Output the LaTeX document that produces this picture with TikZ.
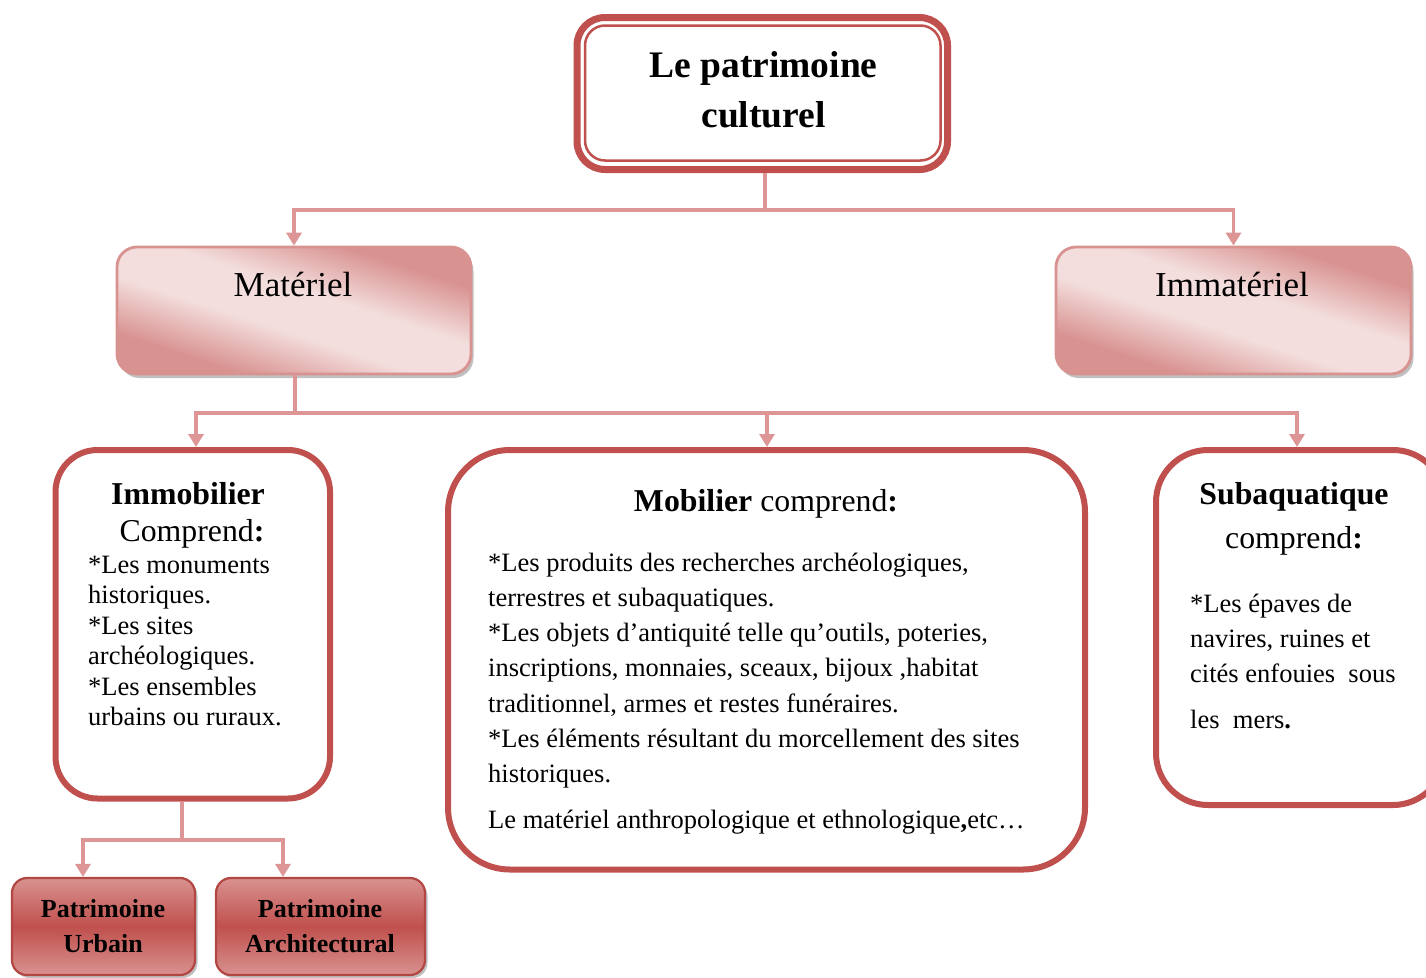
\documentclass[tikz,border=0pt]{standalone}
\usepackage{fontspec}
\setmainfont{Liberation Serif}
\usetikzlibrary{arrows.meta,shadows,calc}
\definecolor{redC}{RGB}{192,80,77}
\definecolor{redD}{RGB}{178,70,67}
\definecolor{pinkD}{RGB}{216,146,144}
\definecolor{pinkL}{RGB}{243,222,221}
\definecolor{connC}{RGB}{221,150,149}
\pgfdeclareverticalshading{pinkband}{100bp}{color(0bp)=(pinkD); color(29bp)=(pinkD); color(44bp)=(pinkL); color(56bp)=(pinkL); color(71bp)=(pinkD); color(100bp)=(pinkD)}
\begin{document}
\begin{tikzpicture}[x=1pt,y=-1pt,
  bigbox/.style={draw=redC, line width=6pt, fill=white, rounded corners=#1, inner sep=0pt},
  pinkbox/.style={draw=pinkD, line width=2.8pt, rounded corners=20pt, inner sep=0pt,
     shading=pinkband, shading angle=-18,
     drop shadow={shadow xshift=2.5pt, shadow yshift=-4pt, opacity=.45, fill=black!55}},
  redbox/.style={draw=redD, line width=2.2pt, rounded corners=15pt, inner sep=0pt,
     top color=pinkD, bottom color=pinkD, middle color=redC,
     drop shadow={shadow xshift=2.5pt, shadow yshift=-3pt, opacity=.45, fill=black!55}},
  conn/.style={draw=connC, line width=3.8pt},
  arr/.style={conn, -{Triangle[width=15pt,length=13pt]}},
  hdr/.style={font=\fontsize{31.8}{36}\selectfont, inner sep=0pt, anchor=base},
  body/.style={font=\fontsize{26.5}{30}\selectfont, inner sep=0pt, anchor=base west},
  ttl/.style={font=\fontsize{37.5}{42}\selectfont\bfseries, inner sep=0pt, anchor=base},
  mid/.style={font=\fontsize{35}{40}\selectfont, inner sep=0pt, anchor=base},
  sml/.style={font=\fontsize{26}{30}\selectfont\bfseries, inner sep=0pt, anchor=base}
]
\useasboundingbox (0,0) rectangle (1426,977);

% ---- top box
\node[bigbox=28pt, line width=7pt, minimum width=370.5pt, minimum height=152pt] (top) at (762.25,93.5) {};
\draw[redC, line width=2.5pt, rounded corners=20pt]
  ($(top.north west)+(11.5,11.5)$) rectangle ($(top.south east)+(-10.5,-12.5)$);
\node[ttl] (t1) at (763.5,77.5) {Le patrimoine};
\node[ttl] (t2) at (763.5,127.5) {culturel};

% ---- level 2
\node[pinkbox, minimum width=354pt, minimum height=127pt] (mat) at (294,310.5) {};
\node[mid] (matT) at (293,296.5) {Matériel};
\node[pinkbox, minimum width=355pt, minimum height=127pt] (imm) at (1233.5,310.5) {};
\node[mid] (immT) at (1232,296.5) {Immatériel};

% ---- level 3
\node[bigbox=42pt, minimum width=274.5pt, minimum height=348.5pt] (immo) at (192.75,624.25) {};
\node[bigbox=62pt, minimum width=637pt, minimum height=419.5pt] (mob) at (766.5,659.75) {};
\node[bigbox=52pt, minimum width=289pt, minimum height=355pt] (sub) at (1300.5,627.5) {};

% Immobilier text
\node[hdr] (imH1) at (188,504.5) {\textbf{Immobilier}};
\node[hdr] (imH2) at (192,541.5) {Comprend\textbf{:}};
\node[body] (im1) at (88,573) {*Les monuments};
\node[body] (im2) at (88,603.5) {historiques.};
\node[body] (im3) at (88,634) {*Les sites};
\node[body] (im4) at (88,664.5) {archéologiques.};
\node[body] (im5) at (88,695) {*Les ensembles};
\node[body] (im6) at (88,725.5) {urbains ou ruraux.};

% Mobilier text
\node[hdr] (moH) at (766,511.5) {\textbf{Mobilier} comprend\textbf{:}};
\node[body] (mo1) at (488,571) {*Les produits des recherches archéologiques,};
\node[body] (mo2) at (488,606) {terrestres et subaquatiques.};
\node[body] (mo3) at (488,641) {*Les objets d’antiquité telle qu’outils, poteries,};
\node[body] (mo4) at (488,676.5) {inscriptions, monnaies, sceaux, bijoux ,habitat};
\node[body] (mo5) at (488,712) {traditionnel, armes et restes funéraires.};
\node[body] (mo6) at (488,747) {*Les éléments résultant du morcellement des sites};
\node[body] (mo7) at (488,782.5) {historiques.};
\node[body] (mo8) at (488,828) {Le matériel anthropologique et ethnologique\textbf{,}etc…};

% Subaquatique text
\node[hdr] (suH1) at (1294,504) {\textbf{Subaquatique}};
\node[hdr] (suH2) at (1294,548) {comprend\textbf{:}};
\node[body] (su1) at (1190,612) {*Les épaves de};
\node[body] (su2) at (1190,647) {navires, ruines et};
\node[body] (su3) at (1190,682) {cités enfouies\ \ sous};
\node[body] (su4) at (1190,728) {les\ \ mers\textbf{.}};

% ---- level 4
\node[redbox, minimum width=183pt, minimum height=97pt] (urb) at (103.5,926.5) {};
\node[sml] (urT1) at (103,917.5) {Patrimoine};
\node[sml] (urT2) at (103,952.5) {Urbain};
\node[redbox, minimum width=209pt, minimum height=97pt] (arc) at (320.5,926.5) {};
\node[sml] (arT1) at (320,917.5) {Patrimoine};
\node[sml] (arT2) at (320,952.5) {Architectural};

% ---- connectors
\coordinate (j1) at (765,210);
\draw[conn] (j1 |- top.south) -- (j1);
\draw[arr] (j1) -| (mat.north);
\draw[arr] (j1) -| (imm.north);

\coordinate (j2) at (295,413);
\coordinate (a1) at (196,0);
\coordinate (a2) at (767,0);
\coordinate (a3) at (1297,0);
\draw[conn] (j2 |- mat.south) -- (j2);
\draw[arr] (j2) -| (a1 |- immo.north);
\draw[arr] (j2) -| (a2 |- mob.north);
\draw[arr] (j2) -| (a3 |- sub.north);

\coordinate (j3) at (182,840);
\coordinate (b1) at (83,0);
\coordinate (b2) at (283,0);
\draw[conn] (j3 |- immo.south) -- (j3);
\draw[arr] (j3) -| (b1 |- urb.north);
\draw[arr] (j3) -| (b2 |- arc.north);
\end{tikzpicture}
\end{document}
